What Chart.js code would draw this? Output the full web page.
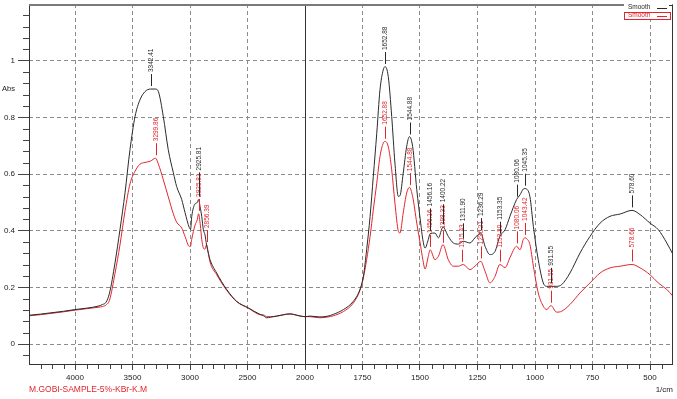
<!DOCTYPE html>
<html>
<head>
<meta charset="utf-8">
<script src="https://cdn.jsdelivr.net/npm/chart.js@4.4.0/dist/chart.umd.min.js"></script>
<style>
  html, body { margin: 0; padding: 0; background: #fff; }
</style>
</head>
<body>
<canvas id="ftir" width="677" height="399"></canvas>
<script>
// wavenumbers (1/cm), high to low
const wavenumbers = [
  4400, 4300, 4200, 4100, 4000, 3900, 3800, 3760, 3730, 3700, 3652, 3609, 3565, 3522, 3478, 3435, 3391, 3342, 3300, 3275,
  3232, 3189, 3145, 3116, 3072, 3043, 3006, 2995, 2985, 2956, 2936, 2926, 2910, 2898, 2884, 2870, 2856, 2840, 2826, 2768,
  2681, 2594, 2493, 2391, 2360, 2333, 2300, 2246, 2130, 2050, 2000, 1978, 1935, 1900, 1877, 1833, 1790, 1761, 1746, 1732,
  1717, 1703, 1688, 1674, 1660, 1652, 1638, 1623, 1609, 1594, 1587, 1573, 1558, 1546, 1532, 1514, 1497, 1488, 1478, 1464,
  1456, 1435, 1420, 1400, 1377, 1355, 1333, 1312, 1283, 1261, 1236, 1217, 1196, 1174, 1153, 1130, 1109, 1080, 1065, 1051,
  1043, 1036, 1022, 1007, 986, 964, 949, 931, 906, 884, 848, 804, 761, 717, 674, 630, 578, 543, 500, 464,
  427, 400
];
const smoothBlack = [
  0.102, 0.106, 0.111, 0.116, 0.122, 0.127, 0.134, 0.140, 0.148, 0.180, 0.287, 0.404, 0.534, 0.686, 0.803, 0.862, 0.891, 0.900, 0.900, 0.891,
  0.803, 0.686, 0.605, 0.556, 0.510, 0.464, 0.411, 0.405, 0.450, 0.495, 0.500, 0.510, 0.480, 0.451, 0.404, 0.386, 0.350, 0.320, 0.298, 0.251,
  0.193, 0.151, 0.128, 0.105, 0.100, 0.093, 0.095, 0.099, 0.107, 0.100, 0.097, 0.099, 0.096, 0.099, 0.105, 0.122, 0.151, 0.193, 0.240, 0.333,
  0.451, 0.592, 0.744, 0.897, 0.967, 0.979, 0.944, 0.803, 0.639, 0.521, 0.524, 0.603, 0.697, 0.732, 0.697, 0.545, 0.427, 0.370, 0.339, 0.369,
  0.390, 0.392, 0.375, 0.413, 0.380, 0.357, 0.353, 0.363, 0.357, 0.375, 0.392, 0.345, 0.316, 0.327, 0.380, 0.404, 0.451, 0.510, 0.527, 0.547,
  0.549, 0.547, 0.520, 0.415, 0.298, 0.216, 0.204, 0.204, 0.204, 0.210, 0.251, 0.322, 0.380, 0.427, 0.451, 0.459, 0.472, 0.457, 0.427, 0.404,
  0.357, 0.316
];
const smoothRed = [
  0.100, 0.104, 0.109, 0.114, 0.120, 0.125, 0.130, 0.133, 0.138, 0.155, 0.250, 0.350, 0.470, 0.565, 0.610, 0.635, 0.641, 0.646, 0.656, 0.635,
  0.580, 0.520, 0.460, 0.430, 0.410, 0.380, 0.345, 0.345, 0.370, 0.420, 0.440, 0.460, 0.420, 0.370, 0.340, 0.335, 0.350, 0.320, 0.290, 0.245,
  0.190, 0.150, 0.127, 0.104, 0.103, 0.097, 0.097, 0.099, 0.106, 0.100, 0.097, 0.097, 0.093, 0.096, 0.100, 0.115, 0.145, 0.190, 0.235, 0.298,
  0.380, 0.474, 0.568, 0.662, 0.709, 0.715, 0.697, 0.615, 0.498, 0.398, 0.392, 0.463, 0.533, 0.553, 0.521, 0.427, 0.345, 0.300, 0.265, 0.310,
  0.333, 0.298, 0.310, 0.351, 0.298, 0.275, 0.275, 0.281, 0.263, 0.275, 0.292, 0.257, 0.216, 0.239, 0.281, 0.270, 0.305, 0.345, 0.333, 0.369,
  0.375, 0.372, 0.351, 0.275, 0.181, 0.134, 0.122, 0.136, 0.113, 0.116, 0.140, 0.181, 0.216, 0.251, 0.269, 0.275, 0.281, 0.269, 0.245, 0.216,
  0.193, 0.169
];
const blackPeaks = ['3342.41', '2925.81', '1652.88', '1544.88', '1456.16', '1400.22', '1311.90', '1236.29', '1153.35', '1080.06', '1045.35', '931.55', '578.60'];
const redPeaks = ['3299.86', '2925.81', '2856.39', '1652.88', '1544.88', '1456.16', '1398.33', '1315.43', '1236.21', '1153.30', '1080.06', '1043.42', '931.55', '578.66'];
const xTickLabels = [4000, 3500, 3000, 2500, 2000, 1750, 1500, 1250, 1000, 750, 500];
const yTickLabels = [0, 0.2, 0.4, 0.6, 0.8, 1];
const sampleName = 'M.GOBI-SAMPLE-5%-KBr-K.M';

const FONT = '"Liberation Sans", Arial, sans-serif';
const BLACK = '#2a2a2a';
const RED = '#e3242b';

// x axis is split at 2000: 4400..2000 on the left, 2000..400 at double scale on the right
const toU = w => w >= 2000 ? 4400 - w : 2400 + 2 * (2000 - w);
const fromU = u => u <= 2400 ? 4400 - u : 2000 - (u - 2400) / 2;

const valueAt = (vals, w) => {
  for (let i = 0; i < wavenumbers.length - 1; i++) {
    const a = wavenumbers[i], b = wavenumbers[i + 1];
    if (w <= a && w >= b) {
      const t = (a - w) / (a - b);
      return vals[i] + t * (vals[i + 1] - vals[i]);
    }
  }
  return vals[vals.length - 1];
};

const line = (ctx, x1, y1, x2, y2) => {
  ctx.beginPath();
  ctx.moveTo(x1, y1);
  ctx.lineTo(x2, y2);
  ctx.stroke();
};

const overlay = {
  id: 'overlay',
  beforeDatasetsDraw(chart) {
    const { ctx, chartArea: a, scales: { x } } = chart;
    ctx.save();
    ctx.strokeStyle = '#333';
    ctx.lineWidth = 1;
    const xb = Math.round(x.getPixelForValue(toU(2000))) + 0.5;
    line(ctx, xb, a.top, xb, a.bottom);
    ctx.restore();
  },
  afterDatasetsDraw(chart) {
    const { ctx, chartArea: a, scales: { x, y } } = chart;
    ctx.save();

    // minor ticks
    ctx.strokeStyle = '#444';
    ctx.lineWidth = 1;
    for (let k = -1; k <= 29; k++) {
      if (k % 5 === 0) continue;
      const py = Math.round(y.getPixelForValue(k * 0.04)) + 0.5;
      line(ctx, a.left - 6, py, a.left, py);
    }
    const minorX = [];
    for (let w = 4300; w > 2000; w -= 100) if (w % 500) minorX.push(w);
    for (let w = 1950; w > 400; w -= 50) if (w % 250) minorX.push(w);
    minorX.forEach(w => {
      const px = Math.round(x.getPixelForValue(toU(w))) + 0.5;
      line(ctx, px, a.bottom, px, a.bottom + 5);
    });

    // frame
    ctx.strokeStyle = '#333';
    line(ctx, Math.round(a.left) + 0.5, a.top, Math.round(a.left) + 0.5, a.bottom);
    line(ctx, a.left, Math.round(a.bottom) + 0.5, a.right, Math.round(a.bottom) + 0.5);
    line(ctx, Math.round(a.right) - 0.5, a.top, Math.round(a.right) - 0.5, a.bottom);
    ctx.strokeStyle = '#7a7a7a';
    ctx.lineWidth = 2;
    line(ctx, a.left, a.top + 1, a.right, a.top + 1);

    // peak labels: red first, black ones are lifted above a red label they would hit
    ctx.font = '6.5px ' + FONT;
    const placed = [];
    const drawPeaks = (peaks, vals, color, avoid) => {
      ctx.strokeStyle = color;
      ctx.fillStyle = color;
      ctx.lineWidth = 1;
      peaks.forEach(p => {
        const w = parseFloat(p);
        const px = Math.round(x.getPixelForValue(toU(w))) + 0.5;
        const py = y.getPixelForValue(valueAt(vals, w));
        const tw = ctx.measureText(p).width;
        let base = py - 17;
        if (avoid) {
          placed.forEach(r => {
            if (Math.abs(r.px - px) < 6 && base > r.top - 3 && base - tw < r.bottom) base = r.top - 3;
          });
        } else {
          placed.push({ px, top: base - tw, bottom: py - 3 });
        }
        line(ctx, px, py - 3, px, base + 2);
        ctx.save();
        ctx.translate(px, base);
        ctx.rotate(-Math.PI / 2);
        ctx.textAlign = 'left';
        ctx.textBaseline = 'middle';
        ctx.fillText(p, 0, 0);
        ctx.restore();
      });
    };
    drawPeaks(redPeaks, smoothRed, RED, false);
    drawPeaks(blackPeaks, smoothBlack, BLACK, true);

    // legend
    const lx = a.right - 49;
    ctx.fillStyle = '#fff';
    ctx.fillRect(lx, 0, 48, a.top + 16);
    ctx.lineWidth = 1;
    ctx.strokeStyle = '#333';
    line(ctx, a.right - 4, a.top + 1.5, a.right, a.top + 1.5);
    ctx.font = '6.5px ' + FONT;
    ctx.textAlign = 'left';
    ctx.textBaseline = 'middle';
    chart.data.datasets.forEach((ds, i) => {
      const ly = a.top + 3.5 + i * 8;
      ctx.fillStyle = ds.borderColor;
      ctx.fillText(ds.label, lx + 4, ly);
      ctx.strokeStyle = ds.borderColor;
      line(ctx, lx + 33, Math.round(ly) + 0.5, lx + 43, Math.round(ly) + 0.5);
    });
    ctx.strokeStyle = RED;
    ctx.strokeRect(lx + 0.5, a.top + 8.5, 46, 7);

    // axis captions
    ctx.fillStyle = '#222';
    ctx.font = '7.5px ' + FONT;
    ctx.textAlign = 'left';
    ctx.fillText('Abs', 2, 89);
    ctx.font = '8px ' + FONT;
    ctx.textAlign = 'right';
    ctx.fillText('1/cm', a.right, 390);
    ctx.fillStyle = RED;
    ctx.font = '8.5px ' + FONT;
    ctx.textAlign = 'left';
    ctx.fillText(sampleName, a.left, 390);
    ctx.restore();
  }
};

new Chart(document.getElementById('ftir'), {
  type: 'line',
  data: {
    datasets: [{
      label: 'Smooth',
      data: wavenumbers.map((w, i) => ({ x: toU(w), y: smoothBlack[i] })),
      borderColor: BLACK,
      borderWidth: 1,
      pointRadius: 0,
      cubicInterpolationMode: 'monotone'
    }, {
      label: 'Smooth',
      data: wavenumbers.map((w, i) => ({ x: toU(w), y: smoothRed[i] })),
      borderColor: RED,
      borderWidth: 1,
      pointRadius: 0,
      cubicInterpolationMode: 'monotone'
    }]
  },
  options: {
    responsive: false,
    animation: false,
    devicePixelRatio: 1,
    layout: { padding: { top: 4, right: 4, left: 0, bottom: 0 } },
    plugins: { legend: { display: false }, tooltip: { enabled: false } },
    scales: {
      x: {
        type: 'linear',
        min: 0,
        max: toU(400),
        afterBuildTicks: scale => { scale.ticks = xTickLabels.map(w => ({ value: toU(w) })); },
        afterFit: scale => { scale.height = 35; scale.paddingLeft = 0; scale.paddingRight = 0; },
        ticks: {
          autoSkip: false,
          maxRotation: 0,
          padding: 3,
          color: '#222',
          font: { size: 8, family: FONT },
          callback: v => String(Math.round(fromU(v)))
        },
        grid: { color: '#8c8c8c', tickColor: '#444', tickLength: 6 },
        border: { display: false, dash: [4, 3] }
      },
      y: {
        min: -0.07,
        max: 1.2,
        afterBuildTicks: scale => { scale.ticks = yTickLabels.map(v => ({ value: v })); },
        afterFit: scale => { scale.width = 29; scale.paddingTop = 0; scale.paddingBottom = 0; },
        ticks: {
          padding: 3,
          color: '#222',
          font: { size: 8, family: FONT },
          callback: v => String(+v.toFixed(1))
        },
        grid: { color: '#8c8c8c', tickColor: '#444', tickLength: 11 },
        border: { display: false, dash: [4, 3] }
      }
    }
  },
  plugins: [overlay]
});
</script>
</body>
</html>
